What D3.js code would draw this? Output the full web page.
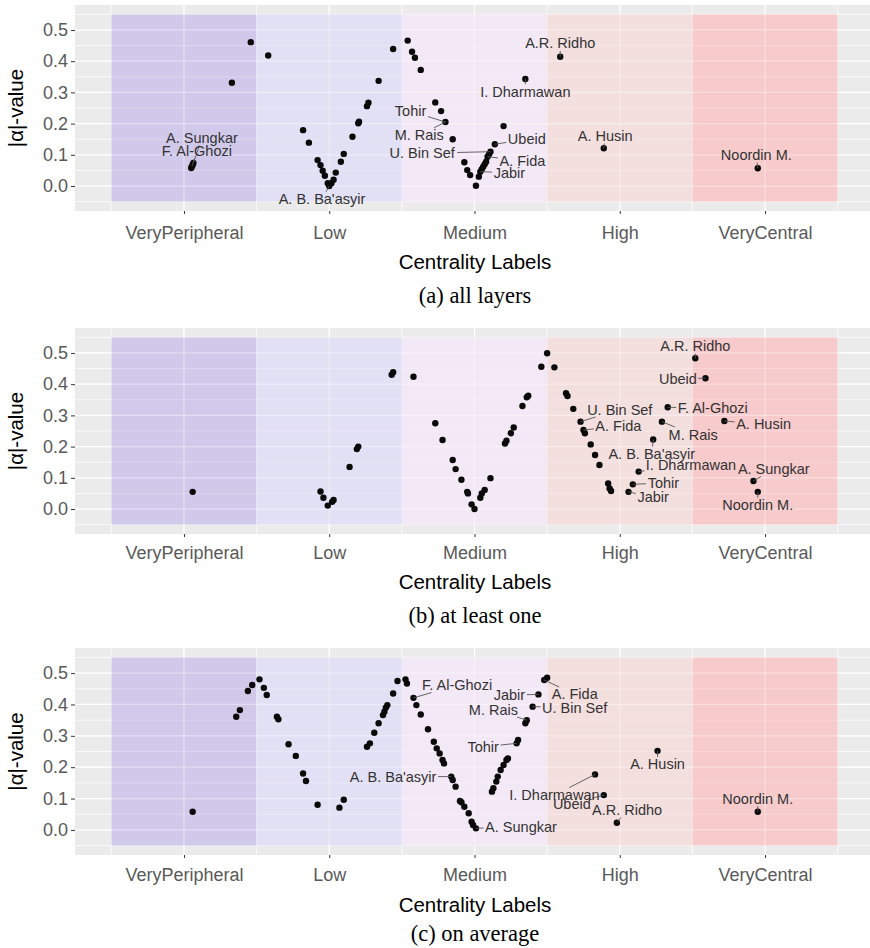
<!DOCTYPE html>
<html lang='en'>
	<head>
		<meta charset='utf-8'>
		<title>Centrality labels vs alpha</title>
		<script type='text/javascript' src='https://d3js.org/d3.v7.min.js'></script>
		<style type='text/css'>
			body { margin: 0; background: white; }
			svg { display: block; }
			.tick text { font-family: 'Liberation Sans', Arial, sans-serif; }
			.repel { font-family: 'Liberation Sans', Arial, sans-serif; font-size: 14.5px; fill: #333; }
			.title { font-family: 'Liberation Sans', Arial, sans-serif; font-size: 20.5px; fill: #000; }
			.caption { font-family: 'Liberation Serif', 'Times New Roman', serif; font-size: 22.5px; fill: #000; }
		</style>
	</head>
	<body>
		<script type='text/javascript'>
			// categories on the x axis (placed at 1..5)
			var categories = ['VeryPeripheral', 'Low', 'Medium', 'High', 'VeryCentral'];
			var categoryTicks = [1, 2, 3, 4, 5];
			var yTicks = [0, 0.1, 0.2, 0.3, 0.4, 0.5];
			var captions = ['(a) all layers', '(b) at least one', '(c) on average'];

			// points [jittered category position, |alpha|]
			var pointsA = [
				[1.05, 0.058], [1.055, 0.063], [1.06, 0.068], [1.065, 0.074],
				[1.33, 0.331], [1.46, 0.461], [1.58, 0.418],
				[1.82, 0.179], [1.86, 0.139], [1.92, 0.083], [1.94, 0.067], [1.955, 0.049], [1.97, 0.033],
				[1.99, 0.009], [2.0, 0.0], [2.015, 0.009], [2.03, 0.02], [2.045, 0.043], [2.08, 0.078],
				[2.10, 0.103], [2.16, 0.158], [2.20, 0.201], [2.205, 0.206], [2.26, 0.256], [2.27, 0.267],
				[2.34, 0.337], [2.44, 0.439],
				[2.54, 0.466], [2.57, 0.43], [2.59, 0.411], [2.63, 0.372], [2.73, 0.268], [2.77, 0.24],
				[2.80, 0.205], [2.85, 0.15], [2.93, 0.076], [2.95, 0.051], [2.97, 0.035], [3.01, 0.001],
				[3.03, 0.03], [3.04, 0.046], [3.05, 0.054], [3.06, 0.062], [3.07, 0.07], [3.08, 0.078],
				[3.09, 0.094], [3.10, 0.102], [3.11, 0.11], [3.14, 0.134], [3.20, 0.192],
				[3.35, 0.343], [3.59, 0.414], [3.89, 0.121], [4.95, 0.057]
			];
			var pointsB = [
				[1.06, 0.055],
				[1.94, 0.056], [1.96, 0.036], [1.99, 0.011], [2.02, 0.023], [2.03, 0.029], [2.14, 0.135],
				[2.19, 0.192], [2.20, 0.2], [2.43, 0.43], [2.44, 0.438], [2.58, 0.424],
				[2.73, 0.275], [2.78, 0.221], [2.85, 0.157], [2.87, 0.128], [2.91, 0.094], [2.95, 0.055],
				[2.955, 0.05], [2.98, 0.015], [3.0, 0.0], [3.04, 0.036], [3.05, 0.05], [3.07, 0.061],
				[3.11, 0.099], [3.21, 0.21], [3.22, 0.219], [3.25, 0.243], [3.27, 0.261], [3.33, 0.33],
				[3.36, 0.358], [3.37, 0.363], [3.46, 0.456], [3.50, 0.499],
				[3.55, 0.454], [3.63, 0.371], [3.64, 0.362], [3.68, 0.321], [3.73, 0.28], [3.75, 0.253],
				[3.76, 0.243], [3.80, 0.207], [3.83, 0.173], [3.86, 0.141], [3.92, 0.082], [3.93, 0.066],
				[3.94, 0.058], [4.06, 0.055], [4.09, 0.079], [4.13, 0.12], [4.23, 0.223], [4.29, 0.28],
				[4.33, 0.326], [4.52, 0.483], [4.59, 0.419], [4.72, 0.282], [4.92, 0.09], [4.95, 0.055]
			];
			var pointsC = [
				[1.06, 0.058],
				[1.36, 0.361], [1.385, 0.382], [1.44, 0.443], [1.47, 0.462], [1.52, 0.48], [1.55, 0.453],
				[1.57, 0.43], [1.64, 0.361], [1.65, 0.353], [1.72, 0.273], [1.77, 0.236], [1.82, 0.18],
				[1.84, 0.156], [1.92, 0.08],
				[2.07, 0.071], [2.10, 0.096], [2.26, 0.265], [2.28, 0.276], [2.31, 0.31], [2.34, 0.34],
				[2.37, 0.366], [2.38, 0.377], [2.39, 0.39], [2.40, 0.398], [2.44, 0.435], [2.47, 0.475],
				[2.525, 0.48], [2.535, 0.467],
				[2.58, 0.421], [2.60, 0.398], [2.63, 0.368], [2.68, 0.321], [2.72, 0.281], [2.74, 0.26],
				[2.76, 0.244], [2.78, 0.223], [2.79, 0.212], [2.84, 0.17], [2.85, 0.159], [2.87, 0.138],
				[2.90, 0.092], [2.91, 0.088], [2.93, 0.074], [2.96, 0.053], [2.98, 0.026], [2.99, 0.016],
				[3.01, 0.005],
				[3.12, 0.122], [3.13, 0.133], [3.15, 0.154], [3.16, 0.17], [3.18, 0.191], [3.20, 0.207],
				[3.22, 0.223], [3.23, 0.228], [3.29, 0.276], [3.30, 0.287], [3.35, 0.34], [3.36, 0.35],
				[3.40, 0.393], [3.44, 0.432], [3.48, 0.478], [3.50, 0.485],
				[3.83, 0.177], [3.89, 0.111], [3.98, 0.023], [4.26, 0.252], [4.95, 0.058]
			];

			// labelled members: name, the point it belongs to, where the repelled text landed (data units)
			var namesA = ['A. Sungkar', 'F. Al-Ghozi', 'A. B. Ba\'asyir', 'Tohir', 'M. Rais', 'U. Bin Sef',
				'Ubeid', 'A. Fida', 'Jabir', 'I. Dharmawan', 'A.R. Ridho', 'A. Husin', 'Noordin M.'];
			var anchorsA = [[1.065, 0.074], [1.055, 0.063], [2.0, 0.0], [2.80, 0.205], [2.80, 0.205], [3.11, 0.11],
				[3.14, 0.134], [3.09, 0.094], [3.04, 0.046], [3.35, 0.343], [3.59, 0.414], [3.89, 0.121], [4.95, 0.057]];
			var spotsA = [[1.124, 0.154], [1.089, 0.112], [1.95, -0.042], [2.56, 0.24], [2.62, 0.163], [2.64, 0.105],
				[3.36, 0.15], [3.33, 0.081], [3.24, 0.043], [3.35, 0.302], [3.59, 0.457], [3.90, 0.16], [4.94, 0.099]];

			var namesB = ['A.R. Ridho', 'Ubeid', 'U. Bin Sef', 'F. Al-Ghozi', 'A. Fida', 'M. Rais', 'A. Husin',
				'A. B. Ba\'asyir', 'I. Dharmawan', 'A. Sungkar', 'Tohir', 'Jabir', 'Noordin M.'];
			var anchorsB = [[4.52, 0.483], [4.59, 0.419], [3.73, 0.28], [4.33, 0.326], [3.75, 0.253], [4.29, 0.28],
				[4.72, 0.282], [4.23, 0.223], [4.13, 0.12], [4.92, 0.09], [4.09, 0.079], [4.06, 0.055], [4.95, 0.055]];
			var spotsB = [[4.52, 0.522], [4.40, 0.418], [4.00, 0.319], [4.64, 0.323], [3.99, 0.266], [4.505, 0.239],
				[4.99, 0.272], [4.22, 0.176], [4.49, 0.141], [5.06, 0.128], [4.30, 0.084], [4.23, 0.038], [4.95, 0.013]];

			var namesC = ['F. Al-Ghozi', 'A. B. Ba\'asyir', 'A. Sungkar', 'Jabir', 'A. Fida', 'M. Rais', 'U. Bin Sef',
				'Tohir', 'A. Husin', 'I. Dharmawan', 'Ubeid', 'A.R. Ridho', 'Noordin M.'];
			var anchorsC = [[2.58, 0.421], [2.84, 0.17], [3.01, 0.005], [3.44, 0.432], [3.48, 0.478], [3.36, 0.35],
				[3.40, 0.393], [3.29, 0.276], [4.26, 0.252], [3.83, 0.177], [3.89, 0.111], [3.98, 0.023], [4.95, 0.058]];
			var spotsC = [[2.88, 0.462], [2.44, 0.17], [3.32, 0.011], [3.24, 0.43], [3.69, 0.432], [3.13, 0.384],
				[3.69, 0.39], [3.06, 0.265], [4.26, 0.209], [3.55, 0.111], [3.67, 0.084], [4.05, 0.064], [4.95, 0.10]];

			// styling
			var bandColors = ['#d1c9ea', '#e2e0f4', '#f3e8f6', '#f4dfdf', '#f7cacb'];

			var w = 870;
			var h = 948;
			var plotLeft = 75;
			var plotWidth = 799;

			var panels = [
				{ points: pointsA, names: namesA, anchors: anchorsA, spots: spotsA, caption: captions[0],
					top: 5, height: 206, tickY: 232, titleY: 262, captionY: 295 },
				{ points: pointsB, names: namesB, anchors: anchorsB, spots: spotsB, caption: captions[1],
					top: 328, height: 206, tickY: 552, titleY: 582, captionY: 615 },
				{ points: pointsC, names: namesC, anchors: anchorsC, spots: spotsC, caption: captions[2],
					top: 648, height: 207, tickY: 874, titleY: 905, captionY: 933 }
			];

			var svg = d3.select('body')
						.append('svg')
						.attr('width', w)
						.attr('height', h);

			var xScale = d3.scaleLinear()
							.domain([0.25, 5.75])
							.range([plotLeft, plotLeft + plotWidth]);

			panels.forEach(function(p) {
				var bottom = p.top + p.height;
				var yScale = d3.scaleLinear()
								.domain([-0.08, 0.58])
								.range([bottom, p.top]);

				var g = svg.append('g');

				// panel background
				g.append('rect')
					.attr('x', plotLeft)
					.attr('y', p.top)
					.attr('width', plotWidth)
					.attr('height', p.height)
					.attr('fill', '#ebebeb');

				var majorY = yTicks;
				var minorY = d3.range(-0.05, 0.56, 0.1);
				var majorX = categoryTicks;
				var minorX = d3.range(0.5, 5.6, 1);

				function grid(opacity) {
					var gg = g.append('g').attr('stroke', 'white').attr('stroke-opacity', opacity);
					gg.selectAll('.hmin').data(minorY).enter().append('line')
						.attr('x1', plotLeft).attr('x2', plotLeft + plotWidth)
						.attr('y1', function(d) { return yScale(d); })
						.attr('y2', function(d) { return yScale(d); })
						.attr('stroke-width', 0.6);
					gg.selectAll('.hmaj').data(majorY).enter().append('line')
						.attr('x1', plotLeft).attr('x2', plotLeft + plotWidth)
						.attr('y1', function(d) { return yScale(d); })
						.attr('y2', function(d) { return yScale(d); })
						.attr('stroke-width', 1.2);
					gg.selectAll('.vmin').data(minorX).enter().append('line')
						.attr('y1', p.top).attr('y2', bottom)
						.attr('x1', function(d) { return xScale(d); })
						.attr('x2', function(d) { return xScale(d); })
						.attr('stroke-width', 0.6);
					gg.selectAll('.vmaj').data(majorX).enter().append('line')
						.attr('y1', p.top).attr('y2', bottom)
						.attr('x1', function(d) { return xScale(d); })
						.attr('x2', function(d) { return xScale(d); })
						.attr('stroke-width', 1.2);
				}
				grid(1);

				// centrality bands
				g.selectAll('.band')
					.data(categories)
					.enter()
					.append('rect')
					.attr('x', function(d, i) { return xScale(i + 0.5); })
					.attr('width', function(d, i) { return xScale(i + 1.5) - xScale(i + 0.5); })
					.attr('y', yScale(0.55))
					.attr('height', yScale(-0.05) - yScale(0.55))
					.attr('fill', function(d, i) { return bandColors[i]; });

				grid(0.4);

				// points
				g.selectAll('.pt')
					.data(p.points)
					.enter()
					.append('circle')
					.attr('cx', function(d) { return xScale(d[0]); })
					.attr('cy', function(d) { return yScale(d[1]); })
					.attr('r', 3.2)
					.attr('fill', '#0a0a0a');

				// repelled labels
				var segs = g.append('g');
				p.names.forEach(function(name, i) {
					var tx = xScale(p.spots[i][0]);
					var ty = yScale(p.spots[i][1]);
					var t = g.append('text')
						.attr('class', 'repel')
						.attr('x', tx)
						.attr('y', ty)
						.attr('dy', '0.35em')
						.attr('text-anchor', 'middle')
						.text(name);
					var bb = t.node().getBBox();
					var pad = 1.5;
					var x0 = bb.x - pad, x1 = bb.x + bb.width + pad;
					var y0 = bb.y + 2 - pad, y1 = bb.y + bb.height - 2 + pad;
					var px = xScale(p.anchors[i][0]);
					var py = yScale(p.anchors[i][1]);
					if (px > x0 && px < x1 && py > y0 && py < y1) return;
					var cx = (x0 + x1) / 2, cy = (y0 + y1) / 2;
					var dx = px - cx, dy = py - cy;
					var tt = Infinity;
					if (dx !== 0) tt = Math.min(tt, ((dx > 0 ? x1 : x0) - cx) / dx);
					if (dy !== 0) tt = Math.min(tt, ((dy > 0 ? y1 : y0) - cy) / dy);
					var ex = cx + tt * dx, ey = cy + tt * dy;
					var len = Math.sqrt((px - ex) * (px - ex) + (py - ey) * (py - ey));
					if (len < 4) return;
					segs.append('line')
						.attr('x1', ex).attr('y1', ey)
						.attr('x2', px).attr('y2', py)
						.attr('stroke', '#555')
						.attr('stroke-width', 0.9);
				});

				// axes
				var yAxis = d3.axisLeft(yScale)
							.tickValues(yTicks)
							.tickSize(4)
							.tickPadding(3)
							.tickFormat(d3.format('.1f'));
				var ya = svg.append('g')
					.attr('transform', 'translate(' + plotLeft + ',0)')
					.call(yAxis);
				ya.select('.domain').remove();
				ya.selectAll('.tick line').attr('stroke', '#333');
				ya.selectAll('.tick text').attr('fill', '#595959').style('font-size', '18px');

				var xAxis = d3.axisBottom(xScale)
							.tickValues(categoryTicks)
							.tickSize(3)
							.tickPadding(p.tickY - bottom - 9)
							.tickFormat(function(d) { return categories[d - 1]; });
				var xa = svg.append('g')
					.attr('transform', 'translate(0,' + bottom + ')')
					.call(xAxis);
				xa.select('.domain').remove();
				xa.selectAll('.tick line').attr('stroke', '#333');
				xa.selectAll('.tick text').attr('fill', '#595959').style('font-size', '18px');

				// titles
				svg.append('text')
					.attr('class', 'title')
					.attr('transform', 'translate(16,' + (p.top + p.height / 2) + ') rotate(-90)')
					.attr('text-anchor', 'middle')
					.attr('dy', '0.35em')
					.text('|\u03b1|-value');

				svg.append('text')
					.attr('class', 'title')
					.attr('x', 475)
					.attr('y', p.titleY)
					.attr('dy', '0.35em')
					.attr('text-anchor', 'middle')
					.text('Centrality Labels');

				svg.append('text')
					.attr('class', 'caption')
					.attr('x', 475)
					.attr('y', p.captionY)
					.attr('dy', '0.35em')
					.attr('text-anchor', 'middle')
					.text(p.caption);
			});
		</script>
	</body>
</html>
